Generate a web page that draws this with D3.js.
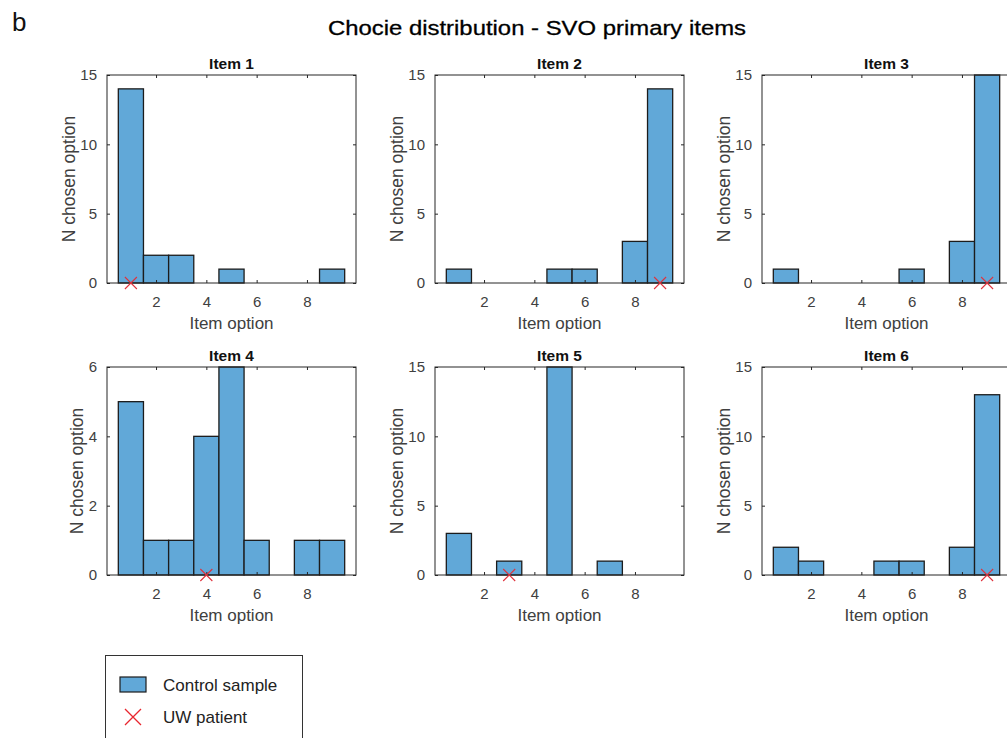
<!DOCTYPE html>
<html>
<head>
<meta charset="utf-8">
<script src="https://cdn.jsdelivr.net/npm/d3@7"></script>
<style>
  html, body { margin: 0; padding: 0; background: #fff; }
  svg { display: block; font-family: "Liberation Sans", Arial, sans-serif; }
</style>
</head>
<body>
<svg id="chart" width="1007" height="738"></svg>
<script>
// ---- Data ----
const figureTitle = "Chocie distribution - SVO primary items";
const panelLetter = "b";
const itemTitles = ["Item 1", "Item 2", "Item 3", "Item 4", "Item 5", "Item 6"];
const options = [1, 2, 3, 4, 5, 6, 7, 8, 9];
const item1Counts = [14, 2, 2, 0, 1, 0, 0, 0, 1];
const item2Counts = [1, 0, 0, 0, 1, 1, 0, 3, 14];
const item3Counts = [1, 0, 0, 0, 0, 1, 0, 3, 15];
const item4Counts = [5, 1, 1, 4, 6, 1, 0, 1, 1];
const item5Counts = [3, 0, 1, 0, 15, 0, 1, 0, 0];
const item6Counts = [2, 1, 0, 0, 1, 1, 0, 2, 13];
const patientChoice = [1, 9, 9, 4, 3, 9];
const yMax = [15, 15, 15, 6, 15, 15];
const yTicksBig = [0, 5, 10, 15];
const yTicksSmall = [0, 2, 4, 6];
const xTicks = [2, 4, 6, 8];
const xLabel = "Item option";
const yLabel = "N chosen option";
const legendLabels = ["Control sample", "UW patient"];

const allCounts = [item1Counts, item2Counts, item3Counts, item4Counts, item5Counts, item6Counts];

// ---- Layout ----
const colLeft = [107, 435, 762];
const rowTop = [75, 367];
const pw = 249, ph = 208;
const barFill = "#61a8d8";
const barEdge = "#1c1c1c";
const axisColor = "#262626";
const textColor = "#404040";
const markerColor = "#e0323c";

const svg = d3.select("#chart");

svg.append("text").attr("x", 12).attr("y", 31)
  .attr("font-size", 26).attr("fill", "#111").text(panelLetter);
svg.append("text").attr("x", 537).attr("y", 35)
  .attr("text-anchor", "middle").attr("font-size", 21).attr("fill", "#000")
  .attr("stroke", "#000").attr("stroke-width", 0.3)
  .attr("textLength", 418).attr("lengthAdjust", "spacingAndGlyphs")
  .text(figureTitle);

allCounts.forEach((counts, i) => {
  const left = colLeft[i % 3], top = rowTop[Math.floor(i / 3)];
  const g = svg.append("g").attr("transform", `translate(${left},${top})`);
  const x = d3.scaleLinear().domain([0.05, 9.95]).range([0, pw]);
  const y = d3.scaleLinear().domain([0, yMax[i]]).range([ph, 0]);
  const yTicks = yMax[i] === 6 ? yTicksSmall : yTicksBig;

  const data = options.map((o, k) => ({ o, v: counts[k] })).filter(d => d.v > 0);
  g.selectAll("rect.bar").data(data).enter().append("rect")
    .attr("class", "bar")
    .attr("x", d => x(d.o - 0.5))
    .attr("y", d => y(d.v))
    .attr("width", d => x(d.o + 0.5) - x(d.o - 0.5))
    .attr("height", d => y(0) - y(d.v))
    .attr("fill", barFill).attr("stroke", barEdge).attr("stroke-width", 1.3);

  // box
  g.append("rect").attr("x", 0).attr("y", 0).attr("width", pw).attr("height", ph)
    .attr("fill", "none").attr("stroke", axisColor).attr("stroke-width", 1);

  // axes
  const fmt = d3.format("d");
  const xAxis = d3.axisBottom(x).tickValues(xTicks).tickFormat(fmt).tickSize(-3).tickPadding(13);
  g.append("g").attr("transform", `translate(0,${ph})`).call(xAxis);
  const yAxis = d3.axisLeft(y).tickValues(yTicks).tickFormat(fmt).tickSize(-3).tickPadding(10);
  g.append("g").call(yAxis);
  // top/right ticks
  const xTop = d3.axisTop(x).tickValues(xTicks).tickSize(-3).tickFormat("");
  g.append("g").call(xTop);
  const yRight = d3.axisRight(y).tickValues(yTicks).tickSize(-3).tickFormat("");
  g.append("g").attr("transform", `translate(${pw},0)`).call(yRight);
  g.selectAll(".domain").remove();
  g.selectAll(".tick line").attr("stroke", axisColor);
  g.selectAll(".tick text").attr("font-size", 15).attr("fill", textColor)
    .attr("font-family", "'Liberation Sans', Arial, sans-serif");

  // marker
  const mx = x(patientChoice[i]), my = y(0), s = 6;
  g.append("path")
    .attr("d", `M${mx - s},${my - s}L${mx + s},${my + s}M${mx - s},${my + s}L${mx + s},${my - s}`)
    .attr("stroke", markerColor).attr("stroke-width", 1.1).attr("fill", "none");

  // titles & labels
  g.append("text").attr("x", pw / 2).attr("y", -6).attr("text-anchor", "middle")
    .attr("font-size", 15.5).attr("font-weight", "bold").attr("fill", "#111").text(itemTitles[i]);
  g.append("text").attr("x", pw / 2).attr("y", ph + 46).attr("text-anchor", "middle")
    .attr("font-size", 17).attr("fill", textColor).text(xLabel);
  const yOff = yMax[i] >= 10 ? 32 : 24;
  g.append("text").attr("transform", `translate(${-yOff},${ph / 2}) rotate(-90)`)
    .attr("text-anchor", "middle").attr("font-size", 17.5).attr("fill", textColor).text(yLabel);
});

// ---- Legend ----
const lg = svg.append("g");
lg.append("rect").attr("x", 105.5).attr("y", 655.5).attr("width", 197).attr("height", 100)
  .attr("fill", "#fff").attr("stroke", "#333").attr("stroke-width", 1);
lg.append("rect").attr("x", 120).attr("y", 677).attr("width", 26).attr("height", 15)
  .attr("fill", barFill).attr("stroke", barEdge).attr("stroke-width", 1.2);
lg.append("text").attr("x", 163).attr("y", 691).attr("font-size", 17).attr("fill", "#222").text(legendLabels[0]);
const lx = 133, ly = 717, ls = 8;
lg.append("path")
  .attr("d", `M${lx - ls},${ly - ls}L${lx + ls},${ly + ls}M${lx - ls},${ly + ls}L${lx + ls},${ly - ls}`)
  .attr("stroke", "#e8262e").attr("stroke-width", 1.3).attr("fill", "none");
lg.append("text").attr("x", 163).attr("y", 723).attr("font-size", 17).attr("fill", "#222").text(legendLabels[1]);
</script>
</body>
</html>
